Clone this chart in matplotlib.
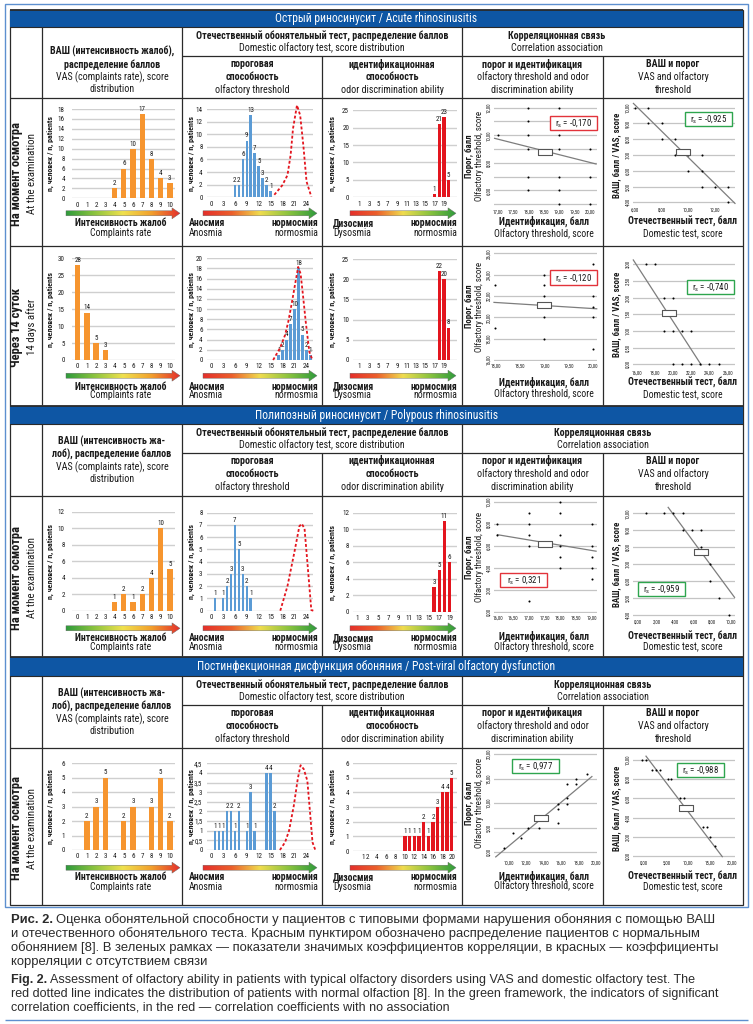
import numpy as np
import matplotlib
matplotlib.use('Agg')
import matplotlib.pyplot as plt
from matplotlib import font_manager
from matplotlib.colors import LinearSegmentedColormap
from matplotlib.patches import Rectangle, Polygon

# ---------------- values ----------------
# acute rhinosinusitis, at the examination
ac0_vas_cat = [4, 5, 6, 7, 8, 9, 10]
ac0_vas_n = [2, 6, 10, 17, 8, 4, 3]
ac0_thr_cat = [6, 7, 8, 9, 10, 11, 12, 13, 14, 15]
ac0_thr_n = [2, 2, 6, 9, 13, 7, 5, 3, 2, 1]
ac0_norm_x = [15.9, 17.9, 19.2, 20.0, 20.6, 21.6, 22.4, 23.2, 24.0, 25.2]
ac0_norm_y = [0.4, 1.9, 3.5, 6.7, 10.9, 14.6, 13.0, 8.2, 2.5, 0.1]
ac0_id_cat = [17, 18, 19, 20]
ac0_id_n = [1, 21, 23, 5]
ac0_c1_x = [17, 18, 18, 18, 18, 18, 18, 19, 19, 19, 19, 19, 19, 19, 20, 20, 20]
ac0_c1_y = [10, 12, 11, 10, 9, 7, 6, 12, 11, 10, 9, 7, 6, 5, 9, 7, 5]
ac0_c1_fit = ([16.9, 20.2], [9.78, 7.92])
ac0_c1_mean = (18.54, 8.81)
ac0_c1_r = '-0,170'
ac0_c2_x = [6, 7, 7, 8, 8, 9, 9, 10, 11, 10, 11, 11, 12, 13, 13]
ac0_c2_y = [10, 10, 9, 9, 8, 8, 7, 7, 7, 6, 6, 5, 5, 5, 4]
ac0_c2_fit = ([5.88, 13.5], [10.27, 3.93])
ac0_c2_mean = (9.58, 7.17)
ac0_c2_r = '-0,925'

# acute rhinosinusitis, 14 days after
ac1_vas_cat = [0, 1, 2, 3]
ac1_vas_n = [28, 14, 5, 3]
ac1_thr_cat = [17, 18, 19, 20, 21, 22, 23, 24, 25]
ac1_thr_n = [1, 2, 4, 7, 10, 18, 5, 2, 1]
ac1_norm_x = [15.6, 17.3, 18.6, 19.4, 20.2, 21.1, 21.9, 22.5, 23.0, 23.8, 24.7, 25.5]
ac1_norm_y = [0.0, 2.3, 4.9, 7.5, 10.8, 14.8, 18.3, 17.0, 13.5, 7.5, 1.6, 0.0]
ac1_id_cat = [18, 19, 20]
ac1_id_n = [22, 20, 8]
ac1_c1_x = [19, 19, 19, 19, 19, 20, 20, 20, 20, 20, 18, 18]
ac1_c1_y = [24, 23, 22, 20, 18, 25, 22, 21, 20, 17, 23, 19]
ac1_c1_fit = ([17.97, 20.07], [21.4, 20.8])
ac1_c1_mean = (18.99, 21.2)
ac1_c1_r = '-0,120'
ac1_c2_x = [17, 18, 19, 20, 19, 20, 21, 22, 20, 21, 22, 23, 24, 25]
ac1_c2_y = [3, 3, 2, 2, 1, 1, 1, 1, 0, 0, 0, 0, 0, 0]
ac1_c2_fit = ([15.65, 23.1], [3.13, -0.02])
ac1_c2_mean = (19.55, 1.53)
ac1_c2_r = '-0,740'

# polypous rhinosinusitis
po_vas_cat = [4, 5, 6, 7, 8, 9, 10]
po_vas_n = [1, 2, 1, 2, 4, 10, 5]
po_thr_cat = [1, 3, 4, 5, 6, 7, 8, 9, 10]
po_thr_n = [1, 1, 2, 3, 7, 5, 3, 2, 1]
po_norm_x = [17.4, 19.2, 20.9, 22.2, 22.8, 23.5, 24.3, 25.2, 25.7]
po_norm_y = [0.0, 2.0, 4.7, 6.9, 7.1, 6.7, 3.6, 0.05, 0.0]
po_id_cat = [16, 17, 18, 19]
po_id_n = [3, 5, 11, 6]
po_c1_x = [18, 18, 18, 18, 18, 18, 17, 17, 17, 17, 17, 19, 19, 19, 19, 19, 16, 16]
po_c1_y = [10, 9, 7, 6, 5, 4, 9, 8, 7, 6, 1, 8, 6, 5, 4, 3, 8, 7]
po_c1_fit = ([16.0, 19.14], [7.0, 5.5])
po_c1_mean = (17.5, 6.18)
po_c1_r = '0,321'
po_c2_x = [0.8, 2.8, 3.8, 4.8, 4.8, 5.8, 6.8, 6.8, 7.8, 7.8, 8.8, 9.8]
po_c2_y = [10, 10, 10, 10, 9, 9, 9, 8, 7, 6, 5, 4]
po_c2_fit = ([3.24, 10.43], [10.35, 5.04])
po_c2_mean = (6.76, 7.74)
po_c2_r = '-0,959'

# post-viral olfactory dysfunction
pv_vas_cat = [1, 2, 3, 5, 6, 8, 9, 10]
pv_vas_n = [2, 3, 5, 2, 3, 3, 5, 2]
pv_thr_cat = [1, 2, 3, 4, 5, 6, 7, 9, 10, 11, 14, 15, 16]
pv_thr_n = [1, 1, 1, 2, 2, 1, 2, 1, 3, 1, 4, 4, 2]
pv_norm_x = [17.3, 18.6, 19.6, 20.8, 21.8, 22.5, 23.3, 24.2, 24.9, 25.5, 26.2]
pv_norm_y = [0.0, 0.4, 1.0, 2.3, 3.7, 4.4, 4.2, 3.6, 1.9, 0.4, 0.0]
pv_id_cat = [10, 11, 12, 13, 14, 15, 16, 17, 18, 19, 20]
pv_id_n = [1, 1, 1, 1, 2, 1, 2, 3, 4, 4, 5]
pv_c1_x = [18.9, 17.7, 17.7, 16.7, 16.7, 16.7, 15.6, 15.6, 15.6, 13.4, 12.2, 10.5, 11.4, 9.4]
pv_c1_y = [15.9, 14.8, 13.8, 13.8, 11.0, 9.8, 9.8, 8.7, 5.9, 4.8, 4.8, 3.9, 2.8, 0.8]
pv_c1_fit = ([8.5, 19.5], [-1.0, 15.4])
pv_c1_mean = (13.65, 7.0)
pv_c1_r = '0,977'
pv_c2_x = [-0.5, 0.5, 1.75, 2.7, 3.6, 5.5, 6.2, 8.2, 9.1, 13.5, 14.4, 15.0, 16.2]
pv_c2_y = [10, 10, 9, 9, 9, 8, 8, 6, 6, 3, 3, 2, 1]
pv_c2_fit = ([0.4, 17.8], [10.4, -0.07])
pv_c2_mean = (9.6, 5.0)
pv_c2_r = '-0,988'

vas_ticks = list(range(0, 11))
thr_ticks = [0, 3, 6, 9, 12, 15, 18, 21, 24]
id_ticks = [1, 3, 5, 7, 9, 11, 13, 15, 17, 19]
id_ticks_pv = [1, 2, 4, 6, 8, 10, 12, 14, 16, 18, 20]

# ---------------- fonts / colours ----------------
available = {f.name for f in font_manager.fontManager.ttflist}
NARROW = next((n for n in ['Liberation Sans Narrow', 'DejaVu Sans Condensed',
                            'Roboto Condensed', 'Open Sans Condensed']
               if n in available), 'Liberation Sans')
K = 1.0 if NARROW != 'Liberation Sans' else 0.84
plt.rcParams['font.family'] = [NARROW, 'DejaVu Sans']
plt.rcParams['mathtext.fontset'] = 'custom'
plt.rcParams['mathtext.rm'] = NARROW
plt.rcParams['mathtext.it'] = NARROW
plt.rcParams['mathtext.default'] = 'regular'

BLUE = '#0E56A4'
FRAME = '#5D8FCF'
LINE = '#2a2a2a'
TXT = '#1a1a1a'
ORANGE = '#F6952F'
BBLUE = '#5B9BD5'
RED = '#E3151E'
GRID = '#CFCFCF'
BAD = '#E2333B'
GOOD = '#2EA54E'

vas_cmap = LinearSegmentedColormap.from_list(
    'vas', ['#2F9B3C', '#8CC43F', '#F0E14E', '#F2A02C', '#E4302C'])
olf_cmap = LinearSegmentedColormap.from_list(
    'olf', ['#E4302C', '#EC5E2B', '#F0DC4E', '#8CC43F', '#2F9B3C'])

W, H = 753, 1024
X0, X1 = 10, 743

fig = plt.figure(figsize=(W / 100, H / 100), dpi=100)
bg = fig.add_axes([0, 0, 1, 1])
bg.set_xlim(0, W)
bg.set_ylim(H, 0)
bg.set_autoscale_on(False)
bg.axis('off')


def frac_rect(x0, y0, x1, y1):
    return [x0 / W, 1 - y1 / H, (x1 - x0) / W, (y1 - y0) / H]


def fmt_num(v):
    if float(v).is_integer():
        return str(int(v))
    return ('%g' % v).replace('.', ',')


def fmt2(v):
    return ('%.2f' % v).replace('.', ',')


def hline(y, x0, x1, lw=0.9, color=LINE):
    bg.plot([x0, x1], [y, y], color=color, lw=lw, solid_capstyle='butt')


def vline(x, y0, y1, lw=0.9, color=LINE):
    bg.plot([x, x], [y0, y1], color=color, lw=lw, solid_capstyle='butt')


def txt(x, y, s, fs, bold=False, **kw):
    kw.setdefault('ha', 'center')
    kw.setdefault('va', 'center')
    kw.setdefault('color', TXT)
    return bg.text(x, y, s, fontsize=fs * K,
                   fontweight='bold' if bold else 'normal', **kw)


def grad_arrow(x0, x1, yc, cmap):
    sh, hh, hl = 5.0, 11.0, 8.0
    verts = [(x0, yc - sh / 2), (x1 - hl, yc - sh / 2), (x1 - hl, yc - hh / 2),
             (x1, yc), (x1 - hl, yc + hh / 2), (x1 - hl, yc + sh / 2),
             (x0, yc + sh / 2)]
    poly = Polygon(verts, closed=True, fc='none', ec='#666666', lw=0.3, zorder=3)
    bg.add_patch(poly)
    img = bg.imshow(np.linspace(0, 1, 256)[None, :], cmap=cmap, aspect='auto',
                    extent=(x0, x1, yc + hh / 2, yc - hh / 2),
                    interpolation='bilinear', zorder=2)
    img.set_clip_path(poly)


def bar_panel(x0, x1, top_px, zero_px, xlim, cats, vals, ymax, ystep, color,
              width, xticks, ylab_x, curve=None, ypad=3):
    ax = fig.add_axes(frac_rect(x0, top_px, x1, zero_px))
    ax.set_xlim(*xlim)
    ax.set_ylim(0, ymax)
    yt = np.arange(0, ymax + ystep * 0.5, ystep)
    ax.set_yticks(yt)
    ax.set_yticklabels([fmt_num(v) for v in yt])
    ax.set_xticks(xticks)
    ax.set_xticklabels([str(t) for t in xticks])
    ax.grid(axis='y', color=GRID, lw=1.0)
    ax.set_axisbelow(True)
    for s in ax.spines.values():
        s.set_visible(False)
    ax.tick_params(axis='both', length=0, labelsize=5.0 * K, colors=TXT)
    ax.tick_params(axis='y', pad=ypad)
    ax.tick_params(axis='x', pad=2.5)
    ax.patch.set_alpha(0)
    ax.bar(cats, vals, width=width, color=color, zorder=2)
    for c, v in zip(cats, vals):
        ax.text(c, v + ymax * 0.012, fmt_num(v), ha='center', va='bottom',
                fontsize=5.0 * K, color=TXT, clip_on=False)
    if curve is not None:
        ax.plot(curve[0], curve[1], color=RED, lw=1.3, ls=(0, (1.6, 1.2)),
                clip_on=False, zorder=3)
    txt(ylab_x, (top_px + zero_px) / 2, 'n, человек / n, patients', 5.7,
        bold=True, rotation=90)
    return ax


BOXM = [(-1.1, -0.5), (1.1, -0.5), (1.1, 0.5), (-1.1, 0.5), (-1.1, -0.5)]


def corr_panel(x0, x1, yref, ylim, xlim, xticks, yticks, ylabeled, px, py,
               fit, mean, r_text, good, box_c):
    (v_hi, p_hi), (v_lo, p_lo) = yref
    s = (p_lo - p_hi) / (v_hi - v_lo)
    top = p_hi - (ylim[1] - v_hi) * s
    bot = p_lo + (v_lo - ylim[0]) * s
    ax = fig.add_axes(frac_rect(x0, top, x1, bot))
    ax.set_xlim(*xlim)
    ax.set_ylim(*ylim)
    ax.set_xticks(xticks)
    ax.set_xticklabels([fmt2(v) for v in xticks])
    ax.set_yticks(yticks)
    ax.set_yticklabels([fmt2(v) if v in ylabeled else '' for v in yticks],
                       rotation=90, va='center')
    ax.grid(axis='y', color='#C4C4C4', lw=0.9)
    ax.set_axisbelow(True)
    for sp in ax.spines.values():
        sp.set_visible(False)
    ax.tick_params(axis='both', length=0, labelsize=3.5 * K, colors=TXT, pad=2)
    ax.patch.set_alpha(0)
    ax.plot(fit[0], fit[1], color='#7d7d7d', lw=0.9, zorder=2, clip_on=False)
    ax.scatter(px, py, s=2.2, c='black', linewidths=0, zorder=3, clip_on=False)
    ax.plot([mean[0]], [mean[1]], marker=BOXM, ms=9.8, mfc='white',
            mec='#555555', mew=0.8, zorder=4, ls='none')
    cx, cy = box_c
    ax.add_patch(Rectangle((cx - 23.5, cy - 7.2), 47, 14.4, fc='white',
                           ec=GOOD if good else BAD, lw=1.0,
                           transform=bg.transData, clip_on=False, zorder=6))
    ax.text(cx, cy, r'$r_s$ = ' + r_text, ha='center', va='center',
            fontsize=6.4 * K, color=TXT, transform=bg.transData, zorder=7,
            clip_on=False)
    return ax


# ---------------- outer frame ----------------
bg.add_patch(Rectangle((5, 4), 743, 903, fc='none', ec=FRAME, lw=1.0))
bg.add_patch(Rectangle((X0, 9.5), X1 - X0, 895.5, fc='none', ec=LINE, lw=0.9))
hline(1020, 5, 748, lw=1.0, color=FRAME)

CX = [10, 42, 182, 322, 462, 603, 743]

sections = [
    dict(title='Острый риносинусит / Acute rhinosinusitis', bar=(10, 27),
         rows=[97.5, 246, 404.5], corr_cx=557,
         vas_lines=[('ВАШ (интенсивность жалоб),', True), ('распределение баллов', True),
                    ('VAS (complaints rate), score', False), ('distribution', False)],
         vas_off=[24.7, 38, 50.3, 62.3]),
    dict(title='Полипозный риносинусит / Polypous rhinosinusitis', bar=(405.5, 424),
         rows=[496, 655.5], corr_cx=603,
         vas_lines=[('ВАШ (интенсивность жа-', True), ('лоб), распределение баллов', True),
                    ('VAS (complaints rate), score', False), ('distribution', False)],
         vas_off=[17.5, 30, 43, 55.5]),
    dict(title='Постинфекционная дисфункция обоняния / Post-viral olfactory dysfunction',
         bar=(657, 676), rows=[747.5, 905], corr_cx=603,
         vas_lines=[('ВАШ (интенсивность жа-', True), ('лоб), распределение баллов', True),
                    ('VAS (complaints rate), score', False), ('distribution', False)],
         vas_off=[17.5, 30, 43, 55.5]),
]

sub_heads = [
    (252, [('пороговая', True), ('способность', True), ('olfactory threshold', False)]),
    (392, [('идентификационная', True), ('способность', True),
           ('odor discrimination ability', False)]),
    (532.5, [('порог и идентификация', True), ('olfactory threshold and odor', False),
             ('discrimination ability', False)]),
    (673, [('ВАШ и порог', True), ('VAS and olfactory', False), ('threshold', False)]),
]

HF = 7.2
for sec in sections:
    b0, b1 = sec['bar']
    bg.add_patch(Rectangle((X0, b0), X1 - X0, b1 - b0, fc=BLUE, ec='none', zorder=1))
    hline(b0, X0, X1, lw=1.3)
    hline(b1, X0, X1, lw=0.8)
    txt(376.5, (b0 + b1) / 2 + 0.3, sec['title'], 8.4, color='white')
    ht = b1
    bottom = sec['rows'][-1]
    hline(ht + 28.5, CX[2], X1)
    for y in sec['rows'][:-1]:
        hline(y, X0, X1)
    for x in (CX[1], CX[2], CX[4]):
        vline(x, ht, bottom)
    for x in (CX[3], CX[5]):
        vline(x, ht + 28.5, bottom)
    for (s, b), off in zip(sec['vas_lines'], sec['vas_off']):
        txt(112, ht + off, s, HF, bold=b)
    txt(322, ht + 9.3, 'Отечественный обонятельный тест, распределение баллов', HF, bold=True)
    txt(322, ht + 21, 'Domestic olfactory test, score distribution', HF)
    txt(sec['corr_cx'], ht + 9.3, 'Корреляционная связь', HF, bold=True)
    txt(sec['corr_cx'], ht + 21, 'Correlation association', HF)
    for cx, lines in sub_heads:
        for (s, b), off in zip(lines, [37, 50, 63]):
            txt(cx, ht + off, s, HF, bold=b)

# ---------------- chart rows ----------------
rows = [
    dict(y=(97.5, 246), lab=('На момент осмотра', 'At the examination'),
         vas=(ac0_vas_cat, ac0_vas_n, 18, 2, 109, 198.3),
         thr=(ac0_thr_cat, ac0_thr_n, 14, 2, 109, 197.3, (ac0_norm_x, ac0_norm_y)),
         idd=(ac0_id_cat, ac0_id_n, 25, 5, 110.3, 197.3, (-0.35, 21.7), id_ticks),
         c1=dict(yref=((12, 107.7), (5, 204.3)), ylim=(4.85, 12.25), xlim=(16.88, 20.22),
                 xticks=[17, 17.5, 18, 18.5, 19, 19.5, 20], yticks=list(range(5, 13)),
                 ylabeled=[6, 8, 10, 12], px=ac0_c1_x, py=ac0_c1_y, fit=ac0_c1_fit,
                 mean=ac0_c1_mean, r_text=ac0_c1_r, good=False, box_c=(574, 123)),
         c2=dict(yref=((10, 107.7), (4, 202.3)), ylim=(3.85, 10.4), xlim=(5.87, 13.5),
                 xticks=[6, 8, 10, 12], yticks=list(range(4, 11)),
                 ylabeled=list(range(4, 11)), px=ac0_c2_x, py=ac0_c2_y, fit=ac0_c2_fit,
                 mean=ac0_c2_mean, r_text=ac0_c2_r, good=True, box_c=(708.5, 119)),
         arrow=213.3, bold=223.3, reg=233.3, cbold=221.7, creg=233.3),
    dict(y=(246, 404.5), lab=('Через 14 суток', '14 days after'),
         vas=(ac1_vas_cat, ac1_vas_n, 30, 5, 258.3, 360),
         thr=(ac1_thr_cat, ac1_thr_n, 20, 2, 258.3, 360, (ac1_norm_x, ac1_norm_y)),
         idd=(ac1_id_cat, ac1_id_n, 25, 5, 259, 360, (-0.35, 21.7), id_ticks),
         c1=dict(yref=((26, 253.3), (16, 360)), ylim=(15.9, 26.2), xlim=(17.97, 20.07),
                 xticks=[18, 18.5, 19, 19.5, 20], yticks=[16, 18, 20, 22, 24, 26],
                 ylabeled=[16, 18, 20, 22, 24, 26], px=ac1_c1_x, py=ac1_c1_y,
                 fit=ac1_c1_fit, mean=ac1_c1_mean, r_text=ac1_c1_r, good=False,
                 box_c=(574, 277.5)),
         c2=dict(yref=((3, 264.3), (0, 364.3)), ylim=(-0.1, 3.2), xlim=(15.65, 26.8),
                 xticks=[16, 18, 20, 22, 24, 26], yticks=[0, 0.5, 1, 1.5, 2, 2.5, 3],
                 ylabeled=[0, 0.5, 1, 1.5, 2, 2.5, 3], px=ac1_c2_x, py=ac1_c2_y,
                 fit=ac1_c2_fit, mean=ac1_c2_mean, r_text=ac1_c2_r, good=True,
                 box_c=(711, 286.7)),
         arrow=375.7, bold=386.7, reg=395.5, cbold=382, creg=394),
    dict(y=(496, 655.5), lab=('На момент осмотра', 'At the examination'),
         vas=(po_vas_cat, po_vas_n, 12, 2, 511.7, 610.7),
         thr=(po_thr_cat, po_thr_n, 8, 1, 512.7, 610.7, (po_norm_x, po_norm_y)),
         idd=(po_id_cat, po_id_n, 12, 2, 512.7, 611.7, (0.2, 20.4), id_ticks),
         c1=dict(yref=((10, 501.7), (0, 611.7)), ylim=(-0.1, 10.2), xlim=(15.89, 19.16),
                 xticks=[16, 16.5, 17, 17.5, 18, 18.5, 19], yticks=[0, 2, 4, 6, 8, 10],
                 ylabeled=[0, 2, 4, 6, 8, 10], px=po_c1_x, py=po_c1_y, fit=po_c1_fit,
                 mean=po_c1_mean, r_text=po_c1_r, good=False, box_c=(523.7, 580.3)),
         c2=dict(yref=((10, 513.3), (4, 615)), ylim=(3.9, 10.4), xlim=(-0.54, 10.48),
                 xticks=[0, 2, 4, 6, 8, 10], yticks=list(range(4, 11)),
                 ylabeled=list(range(4, 11)), px=po_c2_x, py=po_c2_y, fit=po_c2_fit,
                 mean=po_c2_mean, r_text=po_c2_r, good=True, box_c=(661.7, 589.2)),
         arrow=628.3, bold=638.3, reg=646.7, cbold=636.7, creg=646.7),
    dict(y=(747.5, 905), lab=('На момент осмотра', 'At the examination'),
         vas=(pv_vas_cat, pv_vas_n, 6, 1, 763, 850),
         thr=(pv_thr_cat, pv_thr_n, 4.5, 0.5, 763.3, 850, (pv_norm_x, pv_norm_y)),
         idd=(pv_id_cat, pv_id_n, 6, 1, 763, 851, (-1.07, 21.07), id_ticks_pv),
         c1=dict(yref=((20, 754), (0, 852)), ylim=(-1.1, 20.3), xlim=(8.3, 20.05),
                 xticks=[10, 12, 14, 16, 18, 20], yticks=[0, 5, 10, 15, 20],
                 ylabeled=[0, 5, 10, 15, 20], px=pv_c1_x, py=pv_c1_y, fit=pv_c1_fit,
                 mean=pv_c1_mean, r_text=pv_c1_r, good=True, box_c=(535.5, 766.3)),
         c2=dict(yref=((10, 760), (0, 856)), ylim=(-0.2, 10.5), xlim=(-2.5, 20.7),
                 xticks=[0, 5, 10, 15, 20], yticks=[0, 2, 4, 6, 8, 10],
                 ylabeled=[0, 2, 4, 6, 8, 10], px=pv_c2_x, py=pv_c2_y, fit=pv_c2_fit,
                 mean=pv_c2_mean, r_text=pv_c2_r, good=True, box_c=(700.3, 769.7)),
         arrow=867.7, bold=877.3, reg=886.7, cbold=876, creg=886),
]

for r in rows:
    y0, y1 = r['y']
    yc = (y0 + y1) / 2 + 2
    txt(17, yc, r['lab'][0], 9.0, bold=True, rotation=90)
    txt(32, yc, r['lab'][1], 7.8, rotation=90)

    cats, vals, ymax, step, tp, zp = r['vas']
    bar_panel(71.7, 175, tp, zp, (-0.65, 10.55), cats, vals, ymax, step, ORANGE,
              0.58, vas_ticks, 50, ypad=5)
    cats, vals, ymax, step, tp, zp, curve = r['thr']
    bar_panel(206.7, 313.3, tp, zp, (-1.1, 25.7), cats, vals, ymax, step, BBLUE,
              0.68, thr_ticks, 191.5, curve=curve)
    cats, vals, ymax, step, tp, zp, xlim, ticks = r['idd']
    bar_panel(353.3, 456.7, tp, zp, xlim, cats, vals, ymax, step, RED,
              0.68, ticks, 332)

    c1 = r['c1']
    corr_panel(494, 596.7, **c1)
    c2 = r['c2']
    corr_panel(633.3, 735, **c2)

    # axis titles of the correlation panels
    cy1 = (c1['yref'][0][1] + c1['yref'][1][1]) / 2
    txt(469.3, cy1, 'Порог, балл', 6.4, bold=True, rotation=90)
    txt(479.5, cy1, 'Olfactory threshold, score', 6.4, rotation=90)
    cy2 = (c2['yref'][0][1] + c2['yref'][1][1]) / 2
    txt(616.5, cy2, 'ВАШ, балл / VAS, score', 6.4, bold=True, rotation=90)

    # gradient arrows and captions under the bar charts
    grad_arrow(66, 180, r['arrow'], vas_cmap)
    grad_arrow(203, 317, r['arrow'], olf_cmap)
    grad_arrow(350, 456, r['arrow'], olf_cmap)
    txt(121, r['bold'], 'Интенсивность жалоб', 7.0, bold=True)
    txt(121, r['reg'], 'Complaints rate', 7.0)
    txt(189, r['bold'], 'Аносмия', 7.0, bold=True, ha='left')
    txt(318, r['bold'], 'нормосмия', 7.0, bold=True, ha='right')
    txt(189, r['reg'], 'Anosmia', 7.0, ha='left')
    txt(318, r['reg'], 'normosmia', 7.0, ha='right')
    txt(333, r['bold'], 'Дизосмия', 7.0, bold=True, ha='left')
    txt(457, r['bold'], 'нормосмия', 7.0, bold=True, ha='right')
    txt(333, r['reg'], 'Dysosmia', 7.0, ha='left')
    txt(457, r['reg'], 'normosmia', 7.0, ha='right')
    txt(544, r['cbold'], 'Идентификация, балл', 7.0, bold=True)
    txt(544, r['creg'], 'Olfactory threshold, score', 7.0)
    txt(683, r['cbold'], 'Отечественный тест, балл', 7.0, bold=True)
    txt(683, r['creg'], 'Domestic test, score', 7.0)

# ---------------- caption ----------------
CAP_FAMILY = ['Liberation Sans', 'DejaVu Sans']
cap_ru = [
    ('Рис. 2.', 'Оценка обонятельной способности у пациентов с типовыми формами нарушения обоняния с помощью ВАШ'),
    ('', 'и отечественного обонятельного теста. Красным пунктиром обозначено распределение пациентов с нормальным'),
    ('', 'обонянием [8]. В зеленых рамках — показатели значимых коэффициентов корреляции, в красных — коэффициенты'),
    ('', 'корреляции с отсутствием связи'),
]
cap_en = [
    ('Fig. 2.', 'Assessment of olfactory ability in patients with typical olfactory disorders using VAS and domestic olfactory test. The'),
    ('', 'red dotted line indicates the distribution of patients with normal olfaction [8]. In the green framework, the indicators of significant'),
    ('', 'correlation coefficients, in the red — correlation coefficients with no association'),
]

renderer = fig.canvas.get_renderer()


def cap_line(y, bold, rest, fs):
    x = 11
    if bold:
        t = bg.text(x, y, bold, fontsize=fs, fontweight='bold', family=CAP_FAMILY,
                    ha='left', va='center', color='#2b2b2b')
        x += t.get_window_extent(renderer).width + fs * 0.35
    return bg.text(x, y, rest, fontsize=fs, family=CAP_FAMILY, ha='left',
                   va='center', color='#2b2b2b')


def fit_size(bold, rest, right):
    # size the caption so that a reference line ends where it does in the figure
    n_before = len(bg.texts)
    probe = cap_line(-100, bold, rest, 9.0)
    width = probe.get_window_extent(renderer).x1 - 11
    for t in list(bg.texts)[n_before:]:
        t.remove()
    return 9.0 * (right - 11) / width


fs_ru = fit_size(cap_ru[0][0], cap_ru[0][1], 717)
fs_en = fit_size('', cap_en[1][1], 721)

for (b, s), y in zip(cap_ru, [920, 934, 948, 962]):
    cap_line(y, b, s, fs_ru)
for (b, s), y in zip(cap_en, [980, 994, 1008]):
    cap_line(y, b, s, fs_en)

fig.savefig('out.png', dpi=100)
